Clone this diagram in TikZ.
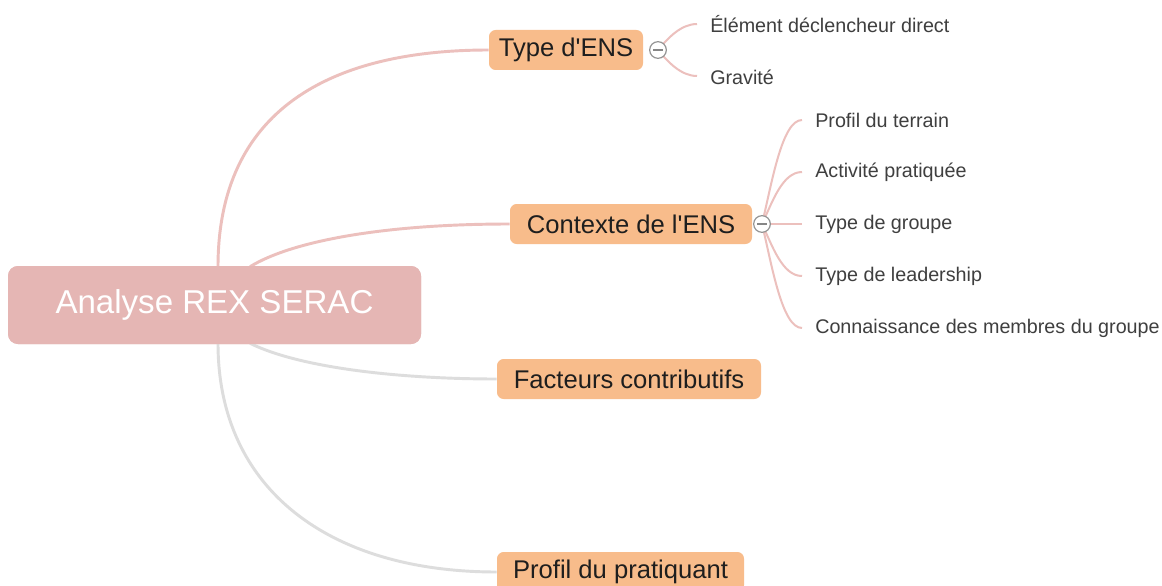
\documentclass[tikz,border=0pt]{standalone}
\usepackage{fontspec}
\setmainfont{Liberation Sans}
\usetikzlibrary{calc}
\definecolor{rootfill}{HTML}{E5B6B4}
\definecolor{topicfill}{HTML}{F8BC8B}
\definecolor{pinkline}{HTML}{ECC0BD}
\definecolor{grayline}{HTML}{DDDDDD}
\definecolor{childtext}{HTML}{3F3F3F}
\definecolor{topictext}{HTML}{1E1E1E}
\tikzset{
  rootbox/.style={fill=rootfill, rounded corners=7.5pt, minimum width=309.75pt, minimum height=58.5pt, inner sep=0pt,
     text=white, font=\fontsize{24.8}{28}\selectfont},
  topicbox/.style={fill=topicfill, rounded corners=5pt, minimum height=30pt, inner sep=0pt,
     text=topictext, font=\fontsize{19.2}{22}\selectfont},
  childtxt/.style={anchor=west, inner sep=0pt, text=childtext, font=\fontsize{14.8}{17}\selectfont},
  mainpink/.style={draw=pinkline, line width=2.2pt},
  maingray/.style={draw=grayline, line width=2.2pt},
  subline/.style={draw=pinkline, line width=1.5pt},
  collapse/.style={circle, draw=gray!85, fill=white, line width=0.9pt, minimum size=12.5pt, inner sep=0pt,
     path picture={\draw[gray!95, line width=0.9pt] ([xshift=2.6pt]path picture bounding box.west) -- ([xshift=-2.6pt]path picture bounding box.east);}}
}
\begin{document}
\begin{tikzpicture}[x=0.75pt, y=-0.75pt]
\clip (0,0) rectangle (1162,585);
\fill[white] (0,0) rectangle (1162,585);

% nodes
\node[rootbox] (root) at (214.5,305) {Analyse REX SERAC};
\node[topicbox, minimum width=115.5pt] (type) at (566,50) {Type d\textquotesingle ENS};
\node[topicbox, minimum width=181.5pt] (ctx) at (631,224) {Contexte de l\textquotesingle ENS};
\node[topicbox, minimum width=198pt] (fac) at (629,379) {Facteurs contributifs};
\node[topicbox, minimum width=185.25pt] (prof) at (620.5,572) {Profil du pratiquant};

\node[childtxt] (t1) at (710,24) {Élément déclencheur direct};
\node[childtxt] (t2) at (710,77) {Gravité};
\node[childtxt] (k1) at (815,120) {Profil du terrain};
\node[childtxt] (k2) at (815,172) {Activité pratiquée};
\node[childtxt] (k3) at (815,224) {Type de groupe};
\node[childtxt] (k4) at (815,276) {Type de leadership};
\node[childtxt] (k5) at (815,328) {Connaissance des membres du groupe};

\coordinate (c1) at (658,50);
\coordinate (c2) at (762,224);

% main connectors
\draw[mainpink] ($(root.north)+(3.5,1)$) .. controls (218,110) and (330,50) .. (type.west);
\draw[mainpink] ($(root.north)+(35.5,1)$) .. controls (290,242) and (380,224) .. (ctx.west);
\draw[maingray] ($(root.south)+(35.5,-1)$) .. controls (300,368) and (400,379) .. (fac.west);
\draw[maingray] ($(root.south)+(3.5,-1)$) .. controls (218,490) and (330,572) .. (prof.west);
% redraw root on top of connector ends
\node[rootbox] at (root) {Analyse REX SERAC};

% sub connectors
\draw[subline] (c1) .. controls +(10,-12) and +(-16,0) .. ($(t1.west)+(-13,0)$);
\draw[subline] (c1) .. controls +(10,12) and +(-16,0) .. ($(t2.west)+(-13,-1)$);
\foreach \k/\d in {k1/-41.6, k2/-20.8, k4/20.8, k5/41.6}{
  \draw[subline] (c2) .. controls +(10,\d) and +(-20,0) .. ($(\k.west)+(-13,0)$);
}
\draw[subline] (c2) -- ($(k3.west)+(-13,0)$);

\node[collapse] (b1) at (c1) {};
\node[collapse] (b2) at (c2) {};
\end{tikzpicture}
\end{document}
